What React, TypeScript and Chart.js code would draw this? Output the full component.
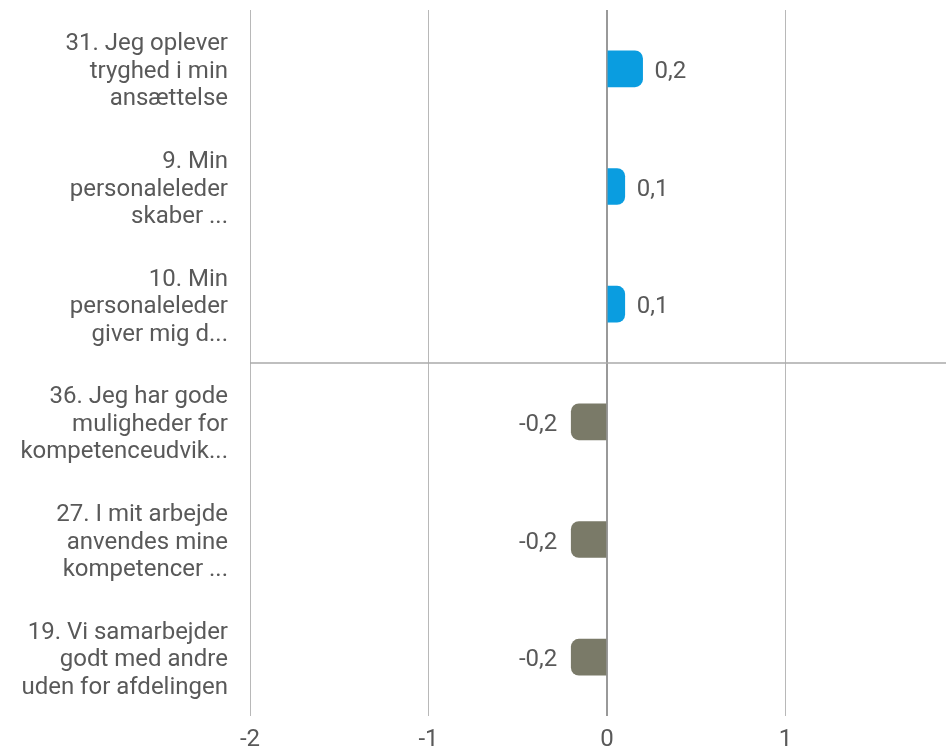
import React, { useEffect, useRef } from "react";
import { Chart, registerables } from "chart.js";

Chart.register(...registerables);

const categories: string[][] = [
  ["31. Jeg oplever", "tryghed i min", "ansættelse"],
  ["9. Min", "personaleleder", "skaber ..."],
  ["10. Min", "personaleleder", "giver mig d..."],
  ["36. Jeg har gode", "muligheder for", "kompetenceudvik..."],
  ["27. I mit arbejde", "anvendes mine", "kompetencer ..."],
  ["19. Vi samarbejder", "godt med andre", "uden for afdelingen"],
];
const values: number[] = [0.2, 0.1, 0.1, -0.2, -0.2, -0.2];
const xTicks: number[] = [-2, -1, 0, 1];
const xMin = -2;
const xMax = 1.9;

const POS_COLOR = "#0a9de0";
const NEG_COLOR = "#7a7a68";
const TEXT_COLOR = "#595959";
const FONT = "Roboto, 'Noto Sans', sans-serif";

const fmt = (v: number) => v.toFixed(1).replace(".", ",");

const extrasPlugin = {
  id: "extras",
  afterDatasetsDraw(chart: any) {
    const { ctx, chartArea, scales } = chart;
    const y = scales.y;
    const yDiv = (y.getPixelForValue(2) + y.getPixelForValue(3)) / 2;
    ctx.save();
    ctx.strokeStyle = "#aaaaaa";
    ctx.lineWidth = 1.5;
    ctx.beginPath();
    ctx.moveTo(chartArea.left, yDiv);
    ctx.lineTo(chartArea.right, yDiv);
    ctx.stroke();
    const meta = chart.getDatasetMeta(0);
    ctx.font = `24px ${FONT}`;
    ctx.fillStyle = TEXT_COLOR;
    ctx.textBaseline = "middle";
    meta.data.forEach((bar: any, i: number) => {
      const v = values[i];
      if (v >= 0) {
        ctx.textAlign = "left";
        ctx.fillText(fmt(v), bar.x + 12, bar.y + 3);
      } else {
        ctx.textAlign = "right";
        ctx.fillText(fmt(v), bar.x - 14, bar.y + 3);
      }
    });
    ctx.restore();
  },
};

export default function App() {
  const ref = useRef<HTMLCanvasElement>(null);
  useEffect(() => {
    const chart = new Chart(ref.current!, {
      type: "bar",
      data: {
        labels: categories,
        datasets: [
          {
            data: values,
            backgroundColor: values.map((v) => (v >= 0 ? POS_COLOR : NEG_COLOR)),
            borderRadius: 8,
            borderSkipped: "start",
            barThickness: 36,
          },
        ],
      },
      options: {
        indexAxis: "y",
        animation: false,
        responsive: false,
        maintainAspectRatio: false,
        layout: { padding: { top: 10, right: 0, bottom: 0, left: 0 } },
        plugins: { legend: { display: false }, tooltip: { enabled: false } },
        scales: {
          x: {
            type: "linear",
            min: xMin,
            max: xMax,
            afterBuildTicks: (scale: any) => {
              scale.ticks = xTicks.map((v) => ({ value: v }));
            },
            ticks: {
              font: { family: FONT, size: 24 },
              color: TEXT_COLOR,
              padding: 10,
              maxRotation: 0,
              callback: (v: any) => String(v),
            },
            grid: {
              drawTicks: false,
              color: (c: any) => (c.tick && c.tick.value === 0 ? "#999999" : "#b8b8b8"),
              lineWidth: (c: any) => (c.tick && c.tick.value === 0 ? 2 : 1),
            },
            border: { display: false },
            afterFit: (scale: any) => {
              scale.height = 35;
              scale.paddingLeft = 0;
              scale.paddingRight = 0;
            },
          },
          y: {
            ticks: {
              font: { family: FONT, size: 24, lineHeight: 1.15 },
              color: TEXT_COLOR,
              padding: 22,
              labelOffset: 3,
            },
            grid: { display: false, drawTicks: false },
            border: { display: false },
            afterFit: (scale: any) => {
              scale.width = 250;
              scale.paddingTop = 0;
              scale.paddingBottom = 0;
            },
          },
        },
      },
      plugins: [extrasPlugin],
    });
    return () => chart.destroy();
  }, []);
  return (
    <div style={{ position: "fixed", left: 0, top: 0, width: 946, height: 751, background: "#fff" }}>
      <canvas ref={ref} width={946} height={751} style={{ display: "block" }} />
    </div>
  );
}
